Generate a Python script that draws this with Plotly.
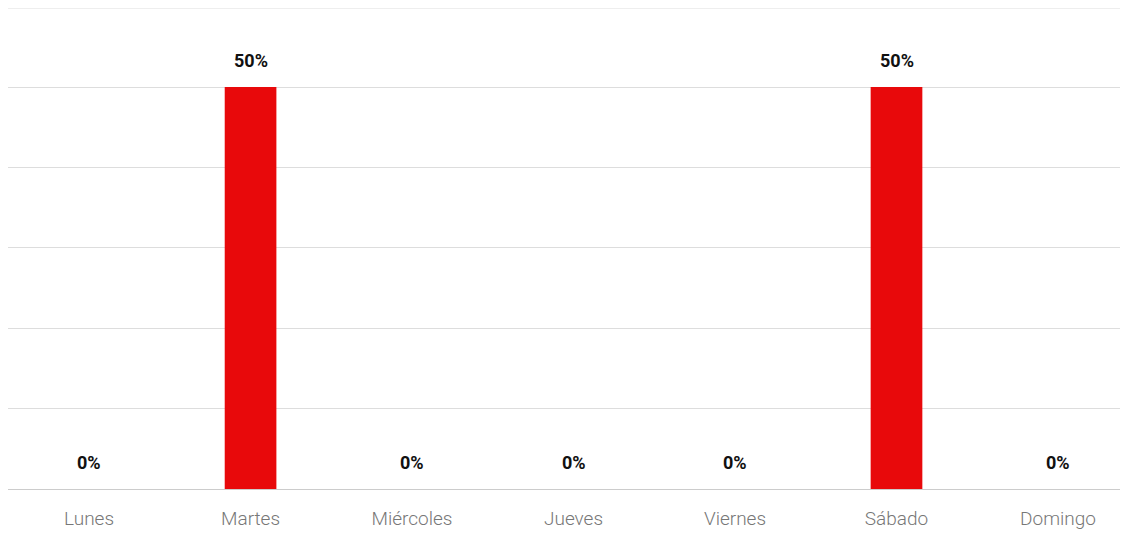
import plotly.graph_objects as go

dias = ["Lunes", "Martes", "Miércoles", "Jueves", "Viernes", "Sábado", "Domingo"]
valores = [0, 50, 0, 0, 0, 50, 0]
etiquetas = [f"{v}%" for v in valores]

FONT = "Roboto, sans-serif"

fig = go.Figure(go.Bar(
    x=dias, y=valores,
    marker=dict(color="#E8090B", line=dict(width=0)),
    width=0.32, cliponaxis=False,
))
for d, v, t in zip(dias, valores, etiquetas):
    fig.add_annotation(x=d, y=v, text=t, showarrow=False, yanchor="bottom", yshift=14,
                       font=dict(family=FONT, size=18, color="#111111", weight="bold"))

# top gridline (at the upper edge of the plot area)
fig.add_shape(type="line", xref="paper", yref="paper", x0=0, x1=1, y0=1, y1=1,
              line=dict(color="#dddddd", width=1), layer="below")

fig.update_layout(
    width=1128, height=533,
    margin=dict(l=0, r=16, t=0, b=52, autoexpand=False),
    paper_bgcolor="white", plot_bgcolor="white",
    showlegend=False,
    xaxis=dict(range=[-0.502, 6.384], showgrid=False, showline=False, ticks="", automargin=False,
               ticklabelstandoff=16,
               tickfont=dict(family=FONT, size=19, color="#777777", weight=300)),
    yaxis=dict(range=[0, 59.83], tickvals=[0, 10, 20, 30, 40, 50], showticklabels=False, showgrid=True,
               automargin=False,
               gridcolor="#dddddd", gridwidth=1, zeroline=True, zerolinecolor="#cccccc", zerolinewidth=1),
)
fig.write_html("out.html")
